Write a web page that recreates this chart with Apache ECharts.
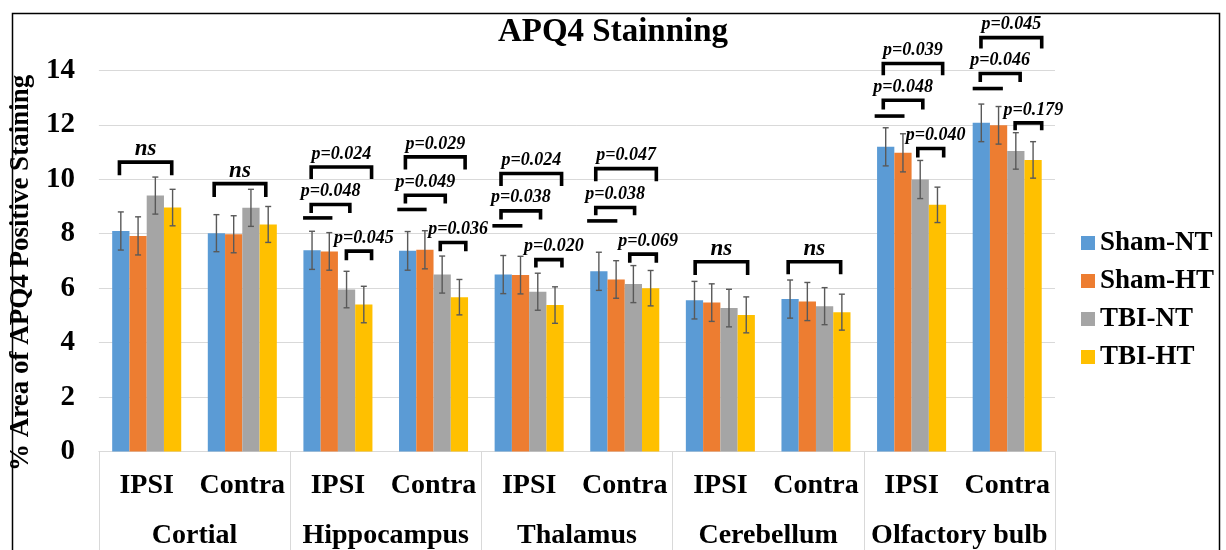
<!DOCTYPE html>
<html>
<head>
<meta charset="utf-8">
<script src="https://cdn.jsdelivr.net/npm/echarts@6/dist/echarts.min.js"></script>
<style>
  html, body { margin: 0; padding: 0; background: #fff; }
  #chart { width: 1226px; height: 550px; }
</style>
</head>
<body>
<div id="chart"></div>
<script>
// ---- data ----
const regions = ['Cortial', 'Hippocampus', 'Thalamus', 'Cerebellum', 'Olfactory bulb'];
const sides = ['IPSI', 'Contra', 'IPSI', 'Contra', 'IPSI', 'Contra', 'IPSI', 'Contra', 'IPSI', 'Contra'];
const groupNames = ['Sham-NT', 'Sham-HT', 'TBI-NT', 'TBI-HT'];
const yTicks = [0, 2, 4, 6, 8, 10, 12, 14];

const shamNT = [8.10, 8.02, 7.39, 7.37, 6.50, 6.62, 5.56, 5.60, 11.19, 12.07];
const shamHT = [7.92, 7.98, 7.35, 7.41, 6.48, 6.32, 5.47, 5.51, 10.97, 11.98];
const tbiNT  = [9.40, 8.95, 5.95, 6.50, 5.87, 6.15, 5.27, 5.34, 9.99, 11.04];
const tbiHT  = [8.96, 8.34, 5.40, 5.67, 5.38, 6.00, 5.02, 5.12, 9.06, 10.71];

const shamNTErr = [0.70, 0.68, 0.70, 0.71, 0.70, 0.70, 0.69, 0.70, 0.70, 0.69];
const shamHTErr = [0.70, 0.68, 0.69, 0.70, 0.69, 0.69, 0.69, 0.70, 0.70, 0.69];
const tbiNTErr  = [0.68, 0.68, 0.67, 0.68, 0.68, 0.68, 0.69, 0.68, 0.70, 0.67];
const tbiHTErr  = [0.67, 0.66, 0.67, 0.65, 0.67, 0.65, 0.66, 0.66, 0.65, 0.67];

// significance brackets: category, span (in bar slots, 0 = left edge of first bar),
// height of the bar in axis units, bottom of the legs, and the label
const bracketCat    = [0, 1, 2, 2, 2, 3, 3, 3, 4, 4, 4, 5, 5, 5, 6, 7, 8, 8, 8, 9, 9, 9];
const bracketFrom   = [0.42, 0.37, 0.45, 0.45, 2.49, 0.37, 0.37, 2.39, 0.37, 0.37, 2.39, 0.32, 0.32, 2.29, 0.54, 0.39, 0.36, 0.36, 2.36, 0.44, 0.48, 2.46];
const bracketTo     = [3.45, 3.36, 2.69, 3.95, 3.95, 2.68, 3.83, 3.87, 2.66, 3.88, 3.90, 2.57, 3.83, 3.83, 3.58, 3.43, 2.65, 3.80, 3.86, 2.75, 4.00, 4.00];
const bracketTop    = [10.63, 9.84, 9.07, 10.45, 7.36, 9.41, 10.82, 7.68, 8.84, 10.21, 7.05, 8.96, 10.39, 7.25, 6.97, 6.97, 12.90, 14.25, 11.13, 13.88, 15.20, 12.07];
const bracketBottom = [10.15, 9.35, 8.76, 10.01, 7.03, 9.11, 10.36, 7.36, 8.52, 9.75, 6.76, 8.68, 9.93, 6.93, 6.48, 6.51, 12.56, 13.82, 10.80, 13.57, 14.80, 11.80];
const bracketLabel  = ['ns', 'ns', 'p=0.048', 'p=0.024', 'p=0.045', 'p=0.049', 'p=0.029', 'p=0.036',
                       'p=0.038', 'p=0.024', 'p=0.020', 'p=0.038', 'p=0.047', 'p=0.069', 'ns', 'ns',
                       'p=0.048', 'p=0.039', 'p=0.040', 'p=0.046', 'p=0.045', 'p=0.179'];

// horizontal bars joining the two sham groups
const shamBarCat   = [2, 3, 4, 5, 8, 9];
const shamBarFrom  = [-0.02, -0.10, -0.13, -0.18, -0.14, 0.00];
const shamBarTo    = [1.68, 1.60, 1.61, 1.57, 1.59, 1.75];
const shamBarLevel = [8.58, 8.89, 8.29, 8.47, 12.32, 13.33];

// ---- layout / style ----
const FONT = '"Liberation Serif", "Times New Roman", serif';
const COLORS = ['#5B9BD5', '#ED7D31', '#A5A5A5', '#FFC000'];
const BAR_CAT_GAP = 0.278;
const GRID_LINE = '#d9d9d9';

const means = [shamNT, shamHT, tbiNT, tbiHT];
const errs = [shamNTErr, shamHTErr, tbiNTErr, tbiHTErr];

function slotGeometry(api, cat) {
  const catW = api.size([1, 0])[0];
  const bw = catW * (1 - BAR_CAT_GAP) / groupNames.length;
  const left = api.coord([cat, 0])[0] - bw * groupNames.length / 2;
  return { bw, left };
}

function errorRenderer(s) {
  return function (params, api) {
    const cat = api.value(0), m = api.value(1), e = api.value(2);
    const g = slotGeometry(api, cat);
    const x = g.left + (s + 0.5) * g.bw;
    const yHi = api.coord([cat, m + e])[1];
    const yLo = api.coord([cat, m - e])[1];
    const cap = 3;
    const style = { stroke: '#595959', lineWidth: 1.4 };
    return {
      type: 'group',
      children: [
        { type: 'line', shape: { x1: x, y1: yHi, x2: x, y2: yLo }, style },
        { type: 'line', shape: { x1: x - cap, y1: yHi, x2: x + cap, y2: yHi }, style },
        { type: 'line', shape: { x1: x - cap, y1: yLo, x2: x + cap, y2: yLo }, style }
      ]
    };
  };
}

function bracketRenderer(params, api) {
  const i = params.dataIndex;
  const cat = bracketCat[i];
  const g = slotGeometry(api, cat);
  const x0 = g.left + bracketFrom[i] * g.bw;
  const x1 = g.left + bracketTo[i] * g.bw;
  const yT = api.coord([cat, bracketTop[i]])[1];
  const yB = api.coord([cat, bracketBottom[i]])[1];
  const isNs = bracketLabel[i] === 'ns';
  const short = bracketFrom[i] > 2;
  return {
    type: 'group',
    children: [
      {
        type: 'polyline',
        shape: { points: [[x0, yB], [x0, yT], [x1, yT], [x1, yB]] },
        style: { stroke: '#000', lineWidth: 3.6, fill: null, lineJoin: 'miter' }
      },
      {
        type: 'text',
        x: (x0 + x1) / 2 + (short ? 5 : 0),
        y: yT - 13,
        style: {
          text: bracketLabel[i],
          fill: '#000',
          font: 'italic bold ' + (isNs ? 23 : 18) + 'px ' + FONT,
          align: 'center',
          verticalAlign: 'middle'
        }
      }
    ]
  };
}

function shamBarRenderer(params, api) {
  const i = params.dataIndex;
  const cat = shamBarCat[i];
  const g = slotGeometry(api, cat);
  const y = api.coord([cat, shamBarLevel[i]])[1];
  return {
    type: 'line',
    shape: { x1: g.left + shamBarFrom[i] * g.bw, y1: y, x2: g.left + shamBarTo[i] * g.bw, y2: y },
    style: { stroke: '#000', lineWidth: 3.6 }
  };
}

const series = [];
groupNames.forEach((name, s) => {
  series.push({
    name,
    type: 'bar',
    data: means[s],
    itemStyle: { color: COLORS[s] },
    barGap: '0%',
    barCategoryGap: (BAR_CAT_GAP * 100) + '%'
  });
});
groupNames.forEach((name, s) => {
  series.push({
    name: name + ' SEM',
    type: 'custom',
    renderItem: errorRenderer(s),
    data: means[s].map((m, i) => [i, m, errs[s][i]]),
    encode: { x: 0, y: 1 },
    z: 5,
    clip: false
  });
});
series.push({
  name: 'brackets',
  type: 'custom',
  renderItem: bracketRenderer,
  data: bracketCat.map((c, i) => [c, bracketTop[i]]),
  encode: { x: 0, y: 1 },
  z: 6,
  clip: false
});
series.push({
  name: 'sham bars',
  type: 'custom',
  renderItem: shamBarRenderer,
  data: shamBarCat.map((c, i) => [c, shamBarLevel[i]]),
  encode: { x: 0, y: 1 },
  z: 6,
  clip: false
});

const chart = echarts.init(document.getElementById('chart'), null, { renderer: 'canvas' });
chart.setOption({
  animation: false,
  backgroundColor: '#fff',
  textStyle: { fontFamily: FONT },
  title: {
    text: 'APQ4 Stainning',
    left: 'center',
    top: 11,
    textStyle: { fontFamily: FONT, fontWeight: 'bold', fontSize: 33, color: '#000' }
  },
  legend: {
    data: groupNames,
    orient: 'vertical',
    left: 1081,
    top: 229,
    padding: 0,
    icon: 'rect',
    itemWidth: 14,
    itemHeight: 14,
    itemGap: 10,
    textStyle: { fontFamily: FONT, fontWeight: 'bold', fontSize: 27, color: '#000', lineHeight: 28 }
  },
  grid: { left: 96, right: 171, top: 70.3, height: 381.3 },
  xAxis: [
    {
      type: 'category',
      data: sides,
      position: 'bottom',
      axisLine: { lineStyle: { color: GRID_LINE, width: 1 } },
      axisTick: { show: false },
      axisLabel: {
        interval: 0, margin: 20, color: '#000',
        fontFamily: FONT, fontWeight: 'bold', fontSize: 28
      }
    },
    {
      type: 'category',
      data: regions,
      position: 'bottom',
      axisLine: { show: false },
      axisTick: { show: true, length: 100, lineStyle: { color: GRID_LINE, width: 1 } },
      axisLabel: {
        interval: 0, margin: 70, color: '#000',
        fontFamily: FONT, fontWeight: 'bold', fontSize: 28
      }
    }
  ],
  yAxis: {
    type: 'value',
    min: yTicks[0],
    max: yTicks[yTicks.length - 1],
    interval: yTicks[1] - yTicks[0],
    name: '% Area of APQ4 Positive Staining',
    nameLocation: 'middle',
    nameGap: 55,
    nameTextStyle: {
      fontFamily: FONT, fontWeight: 'bold', fontSize: 27, color: '#000',
      padding: [0, 24, 0, 0]
    },
    axisLine: { show: false },
    axisTick: { show: false },
    splitLine: { lineStyle: { color: GRID_LINE, width: 1 } },
    axisLabel: { margin: 24, color: '#000', fontFamily: FONT, fontWeight: 'bold', fontSize: 29 }
  },
  graphic: [
    {
      type: 'rect',
      shape: { x: 12.5, y: 13.5, width: 1207, height: 560 },
      style: { fill: null, stroke: '#000', lineWidth: 1.5 },
      silent: true,
      z: 100
    }
  ],
  series
});
</script>
</body>
</html>
